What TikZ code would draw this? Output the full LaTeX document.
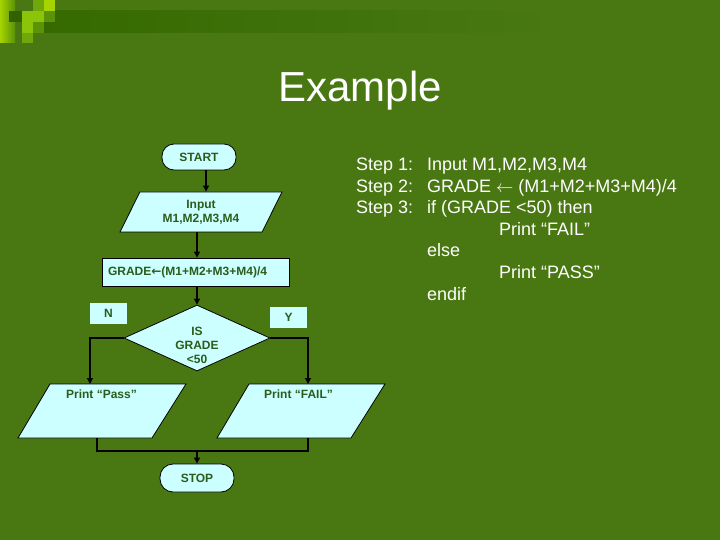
\documentclass[tikz,border=0pt]{standalone}
\usepackage{fontspec}
\setmainfont{Liberation Sans}
\newfontfamily\arrowfont{DejaVu Sans}
\usetikzlibrary{shapes.geometric,arrows.meta}
\definecolor{bg}{RGB}{73,120,19}
\definecolor{bardark}{RGB}{52,106,0}
\definecolor{boxc}{RGB}{204,255,255}
\definecolor{fctext}{RGB}{42,92,28}
\definecolor{limeA}{RGB}{165,212,0}
\definecolor{limeB}{RGB}{140,196,10}
\definecolor{limeC}{RGB}{110,168,10}
\definecolor{limeD}{RGB}{90,146,8}
\definecolor{limeE}{RGB}{48,98,0}
\begin{document}
\begin{tikzpicture}[x=1bp,y=-1bp,
  fc/.style={font=\fontsize{12bp}{14bp}\selectfont\bfseries, text=fctext},
  shapebox/.style={draw=black, line width=0.8bp, fill=boxc, inner sep=0pt},
  term/.style={shapebox, fc, minimum width=74bp},
  io/.style={shapebox, trapezium, trapezium stretches body},
  con/.style={line width=1.2bp, draw=black},
  arr/.style={con, -{Triangle[length=6bp,width=6bp]}},
  tag/.style={fill=boxc, inner sep=0pt, minimum width=37bp, minimum height=21bp, fc},
  pline/.style={anchor=base west, text=white, font=\fontsize{18bp}{21bp}\selectfont, inner sep=0pt}
]
% background
\fill[bg] (0,0) rectangle (720,540);
\useasboundingbox (0,0) rectangle (720,540);
% top decoration
\shade[left color=bardark, right color=bg] (33,11) rectangle (560,33);
\shade[left color=limeA, right color=limeD] (0,0) rectangle (15,43);
\fill[limeE] (9,11) rectangle (22,22);
\fill[limeB] (22,11) rectangle (33,22);
\fill[limeC] (33,0) rectangle (44,11);
\fill[limeA] (44,0) rectangle (55,11);
\fill[limeB] (33,11) rectangle (44,22);
\fill[limeD] (44,11) rectangle (55,22);
\fill[limeB] (22,22) rectangle (33,33);
\fill[limeD] (33,22) rectangle (44,33);
\fill[limeC] (22,33) rectangle (33,43);

% title
\node[anchor=base, text=white, font=\fontsize{42bp}{50bp}\selectfont, inner sep=0pt] (title) at (360,102) {Example};

% flowchart
\node[term, minimum height=26bp, rounded corners=12bp] (start) at (199,157) {START};
\node[io, fc, align=center, trapezium left angle=50.5, trapezium right angle=129.5,
      minimum width=162bp, minimum height=40bp] (inp) at (201,212) {Input\\M1,M2,M3,M4};
\node[shapebox, fc, minimum height=28bp, text width=175bp, inner xsep=6bp, align=left] (grade) at (195.5,272) {GRADE{\arrowfont\bfseries ←}(M1+M2+M3+M4)/4};
\node[shapebox, diamond, minimum width=146bp, minimum height=66bp] (dia) at (197,338) {};
\node[fc, align=center, inner sep=0pt] (diat) at (197,345.5) {IS\\GRADE\\<50};
\node[tag] (n) at (108.5,313) {N};
\node[tag] (y) at (288.5,317.5) {Y};
% output parallelograms
\draw[shapebox] (18,438) -- (50,384) -- (186,384) -- (152,438) -- cycle;
\draw[shapebox] (217,438) -- (249,384) -- (385,384) -- (351,438) -- cycle;
\coordinate (passtop) at (90,384);
\coordinate (passbot) at (97,438);
\coordinate (failtop) at (308,384);
\coordinate (failbot) at (308,438);
\node[fc, anchor=base, inner sep=0pt] (passt) at (101.5,398.5) {Print “Pass”};
\node[fc, anchor=base, inner sep=0pt] (failt) at (298.5,398.5) {Print “FAIL”};
\node[term, minimum height=28bp, rounded corners=13bp] (stop) at (197,478) {STOP};

% connectors
\draw[arr] ([xshift=7bp]start.south) -- ([xshift=7bp]start.south |- inp.north);
\draw[arr] ([xshift=-4bp]inp.south) -- ([xshift=-4bp]inp.south |- grade.north);
\draw[arr] (grade.south -| dia.north) -- (dia.north);
\draw[arr] (dia.west) -| (passtop);
\draw[arr] (dia.east) -| (failtop);
\coordinate (join) at (197,451);
\draw[con] (passbot) |- (join);
\draw[con] (failbot) |- (join);
\draw[arr] (join) -- (stop.north);

% pseudo-code
\node[pline] (s1) at (356,171) {Step 1:};
\node[pline] (s1b) at (427,171) {Input M1,M2,M3,M4};
\node[pline] (s2) at (356,192.5) {Step 2:};
\node[pline] (s2b) at (427,192.5) {GRADE $\leftarrow$ (M1+M2+M3+M4)/4};
\node[pline] (s3) at (356,214) {Step 3:};
\node[pline] (s3b) at (427,214) {if (GRADE <50) then};
\node[pline] (pf) at (499,235.5) {Print “FAIL”};
\node[pline] (el) at (427,257) {else};
\node[pline] (pp) at (499,278.5) {Print “PASS”};
\node[pline] (ei) at (427,300) {endif};
\end{tikzpicture}
\end{document}
